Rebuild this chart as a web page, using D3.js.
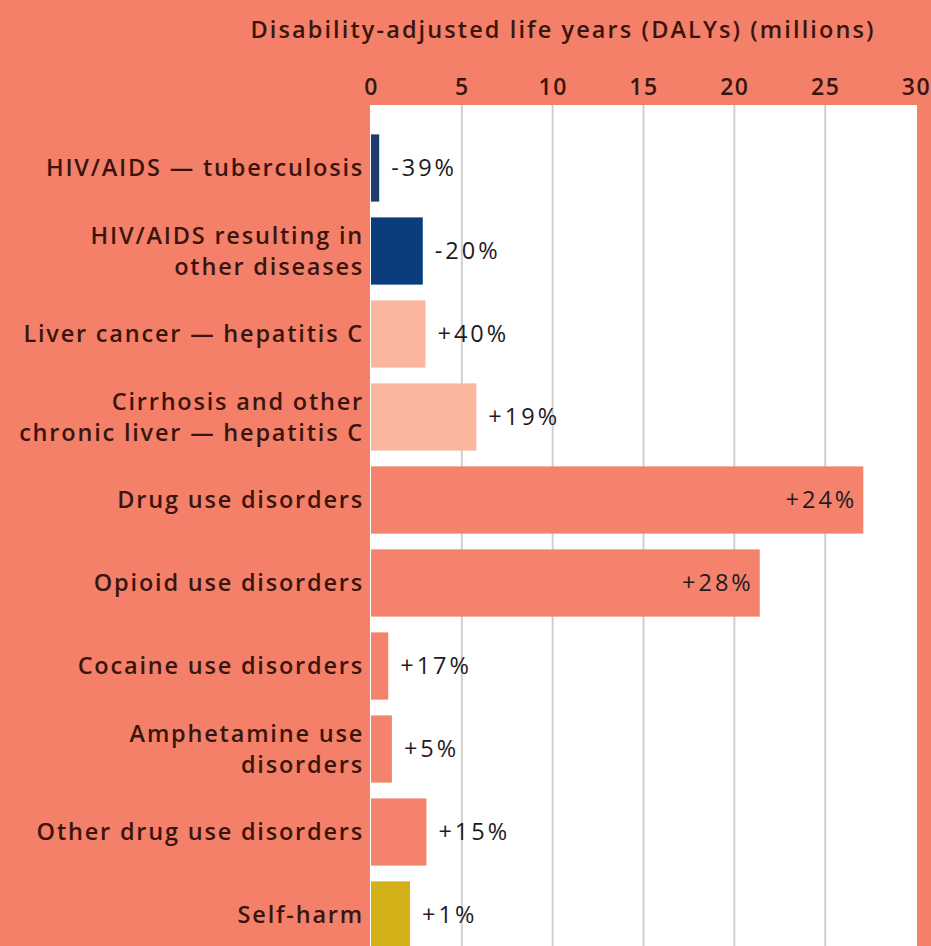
<!DOCTYPE html>
<html><head><meta charset="utf-8">
<script src="https://cdn.jsdelivr.net/npm/d3@7"></script>
<style>
html,body{margin:0;padding:0;background:#F4806A;overflow:hidden;}
svg{display:block;}
</style></head>
<body><svg id="c" width="931" height="946"></svg>
<script>
const categories = [
  ["HIV/AIDS — tuberculosis"],
  ["HIV/AIDS resulting in","other diseases"],
  ["Liver cancer — hepatitis C"],
  ["Cirrhosis and other","chronic liver — hepatitis C"],
  ["Drug use disorders"],
  ["Opioid use disorders"],
  ["Cocaine use disorders"],
  ["Amphetamine use","disorders"],
  ["Other drug use disorders"],
  ["Self-harm"]
];
const values = [0.45, 2.85, 3.0, 5.8, 27.1, 21.4, 0.95, 1.15, 3.05, 2.15];
const changes = ["-39%","-20%","+40%","+19%","+24%","+28%","+17%","+5%","+15%","+1%"];
const groups = ["hiv","hiv2","hep","hep","drug","drug","drug","drug","drug","self"];
const ticks = [0,5,10,15,20,25,30];
const title = "Disability-adjusted life years (DALYs) (millions)";

const colors = {hiv:"#1E3D6B", hiv2:"#0B3C7C", hep:"#FBB69F", drug:"#F4826C", self:"#D3B118"};
const svg = d3.select("#c");
const x = d3.scaleLinear().domain([0,30]).range([371,916]);
const idx = categories.map((d,i)=>i);
const y = d3.scaleBand().domain(idx).range([126.5,956.5]).paddingInner(0.19).paddingOuter(0.095);
const font = "'Open Sans', Lato, sans-serif";
const dark = "#3a150e";

// plot background
svg.append("rect").attr("x",x(0)-1).attr("y",105).attr("width",x(30)-x(0)+2).attr("height",900).attr("fill","#ffffff");
// gridlines
svg.append("g").selectAll("line").data(ticks.slice(1,-1)).join("line")
  .attr("x1",d=>x(d)).attr("x2",d=>x(d)).attr("y1",105).attr("y2",946)
  .attr("stroke","#cfcfcf").attr("stroke-width",2);

// axis on top
const axis = d3.axisTop(x).tickValues(ticks).tickSize(0).tickPadding(0);
const ag = svg.append("g").attr("transform","translate(0,95)").call(axis);
ag.select(".domain").remove();
ag.selectAll("text").attr("font-family",font).attr("font-size",23).attr("font-weight",600)
  .attr("fill",dark).attr("letter-spacing",1.5);

// title
svg.append("text").attr("x",563).attr("y",38).attr("text-anchor","middle")
  .attr("font-family",font).attr("font-size",23.5).attr("font-weight",600).attr("fill",dark)
  .attr("letter-spacing",2.1).text(title);

// bars
svg.append("g").selectAll("rect").data(idx).join("rect")
  .attr("x",x(0)).attr("y",i=>y(i)).attr("width",i=>x(values[i])-x(0)).attr("height",y.bandwidth())
  .attr("fill",i=>colors[groups[i]]);

// value labels
svg.append("g").selectAll("text").data(idx).join("text")
  .attr("x",i=> values[i]>15 ? x(values[i])-6 : x(values[i])+12)
  .attr("y",i=>y(i)+y.bandwidth()/2+8)
  .attr("text-anchor",i=> values[i]>15 ? "end" : "start")
  .attr("font-family",font).attr("font-size",23.5).attr("fill","#1f1a1f").attr("letter-spacing",3)
  .text(i=>changes[i]);

// category labels
const cl = svg.append("g").selectAll("text").data(idx).join("text")
  .attr("text-anchor","end").attr("font-family",font).attr("font-size",23.5).attr("font-weight",600)
  .attr("fill",dark).attr("letter-spacing",1.8);
cl.each(function(i){
  const lines = categories[i];
  const cy = y(i)+y.bandwidth()/2;
  const lh = 31;
  d3.select(this).selectAll("tspan").data(lines).join("tspan")
    .attr("x",364).attr("y",(d,k)=>cy+8+(k-(lines.length-1)/2)*lh).text(d=>d);
});
</script></body></html>
